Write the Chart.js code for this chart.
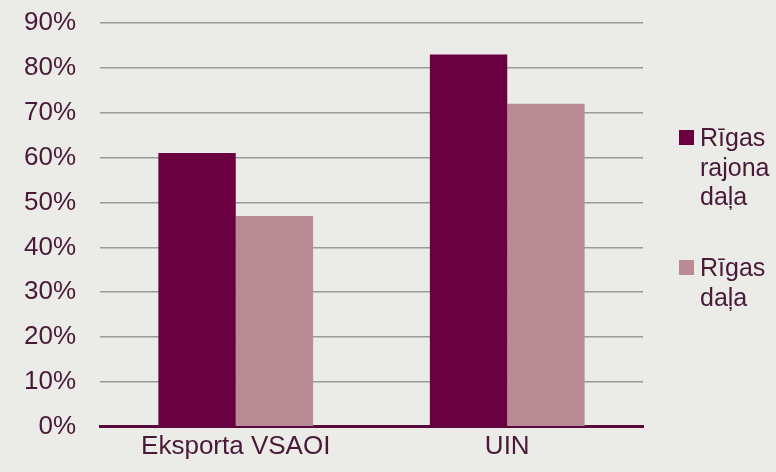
<!DOCTYPE html>
<html>
<head>
<meta charset="utf-8">
<script src="https://cdn.jsdelivr.net/npm/chart.js@4/dist/chart.umd.min.js"></script>
<style>
  body { margin: 0; background: #ebebe7; }
  #wrap { position: relative; width: 776px; height: 472px; }
  #legend { position: absolute; left: 679px; top: 123px; font-family: "Liberation Sans", Arial, sans-serif;
            font-size: 25px; color: #4a1838; line-height: 29.5px; }
  .item { position: relative; padding-left: 21px; margin-bottom: 41.5px; }
  .box { position: absolute; left: 0; top: 7px; width: 15px; height: 15px; }
</style>
</head>
<body>
<div id="wrap">
  <canvas id="chart" width="776" height="472"></canvas>
  <div id="legend"></div>
</div>
<script>
// Données
const categories = ['Eksporta VSAOI', 'UIN'];
const seriesNames = [['Rīgas', 'rajona', 'daļa'], ['Rīgas', 'daļa']];
const rajonaValues = [61, 83];
const rigaValues = [47, 72];
const colors = ['#6b0040', '#b98b95'];

const txt = '#4a1838';

new Chart(document.getElementById('chart').getContext('2d'), {
    type: 'bar',
    data: {
        labels: categories,
        datasets: [
            { label: seriesNames[0].join(' '), data: rajonaValues, backgroundColor: colors[0] },
            { label: seriesNames[1].join(' '), data: rigaValues, backgroundColor: colors[1] }
        ]
    },
    options: {
        responsive: false,
        animation: false,
        layout: { padding: { left: 24, right: 133, top: 23, bottom: 6 } },
        datasets: { bar: { categoryPercentage: 0.57, barPercentage: 1.0 } },
        plugins: { legend: { display: false }, tooltip: { enabled: false } },
        scales: {
            x: {
                grid: { display: false, drawTicks: false },
                border: { color: '#5a0a3a', width: 3 },
                ticks: { color: txt, font: { family: 'Liberation Sans', size: 26 }, padding: 4 },
                afterFit: s => { s.paddingLeft = 0; s.paddingRight = 0; }
            },
            y: {
                min: 0, max: 90,
                grid: { color: '#9a9a9a', lineWidth: 1.5, drawTicks: false },
                border: { display: false },
                ticks: {
                    stepSize: 10, padding: 24, color: txt,
                    font: { family: 'Liberation Sans', size: 26 },
                    callback: v => v + '%'
                },
                afterFit: s => { s.width = 76; s.paddingTop = 0; s.paddingBottom = 0; }
            }
        }
    }
});

// Légende HTML (texte sur plusieurs lignes)
const legend = document.getElementById('legend');
seriesNames.forEach((lines, i) => {
    const d = document.createElement('div');
    d.className = 'item';
    d.innerHTML = '<span class="box" style="background:' + colors[i] + '"></span>' + lines.join('<br>');
    legend.appendChild(d);
});
</script>
</body>
</html>
